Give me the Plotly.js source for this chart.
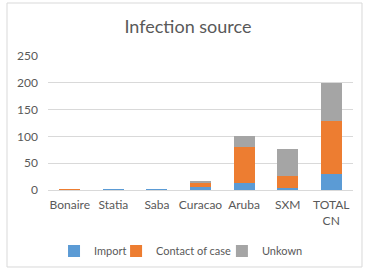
<!DOCTYPE html>
<html><head><meta charset="utf-8">
<script src="https://cdn.plot.ly/plotly-3.0.1.min.js"></script>
<style>html,body{margin:0;padding:0;background:#fff}#c{width:365px;height:270px}</style>
</head><body><div id="c"></div>
<script>
const categories = ["Bonaire", "Statia", "Saba", "Curacao", "Aruba", "SXM", "TOTAL<br>CN"];
const importVals  = [0, 2, 1, 6, 14, 3, 29];
const contactVals = [2, 0, 1, 8, 67, 24, 99];
const unknownVals = [0, 0, 0, 3, 20, 50, 72];
const seriesNames = ["Import", "Contact of case", "Unkown"];
const colors = ["#5B9BD5", "#ED7D31", "#A5A5A5"];
const txt = "#595959";
const font = "Lato, 'Open Sans', sans-serif";
const legendIds = ["legend", "legend2", "legend3"];

const data = [importVals, contactVals, unknownVals].map((v, i) => ({
  type: "bar", x: categories, y: v, name: seriesNames[i], legend: legendIds[i], showlegend: true,
  marker: {color: colors[i]}, hoverinfo: "skip"
}));

const legendX = [0.148, 0.318, 0.608];
const mkLegend = (x) => ({orientation: "h", xref: "container", yref: "container", x: x, xanchor: "left",
  y: 0.07, yanchor: "middle", font: {size: 11, color: txt}, itemwidth: 30, bgcolor: "rgba(0,0,0,0)"});

const layout = {
  width: 365, height: 270,
  showlegend: true,
  margin: {l: 48, r: 12, t: 56, b: 80},
  paper_bgcolor: "#fff", plot_bgcolor: "#fff",
  barmode: "stack", bargap: 0.52,
  title: {text: "Infection source", xref: "container", x: 0.515, xanchor: "center", y: 0.9, yanchor: "middle",
          font: {family: font, size: 18, color: txt}},
  font: {family: font, color: txt, size: 12},
  xaxis: {automargin: false, tickfont: {size: 12, color: txt}, showline: true, linecolor: "#D9D9D9", linewidth: 1,
          layer: "below traces",
          ticks: "", showgrid: false, fixedrange: true, ticklabelstandoff: 4},
  yaxis: {automargin: false, range: [0, 250], dtick: 50, showgrid: true, gridcolor: "#D9D9D9", gridwidth: 1,
          zeroline: false, showline: false, ticks: "", ticklen: 0, ticklabelstandoff: 9,
          tickfont: {size: 12, color: txt}, fixedrange: true},
  legend: mkLegend(legendX[0]),
  legend2: mkLegend(legendX[1]),
  legend3: mkLegend(legendX[2]),
  shapes: [{type: "rect", xref: "paper", yref: "paper", x0: -0.1344, x1: 1.0295, y0: -0.5746, y1: 1.3955,
            line: {color: "#D9D9D9", width: 1}, layer: "below"}]
};
Plotly.newPlot("c", data, layout, {displayModeBar: false, staticPlot: true});
</script></body></html>
